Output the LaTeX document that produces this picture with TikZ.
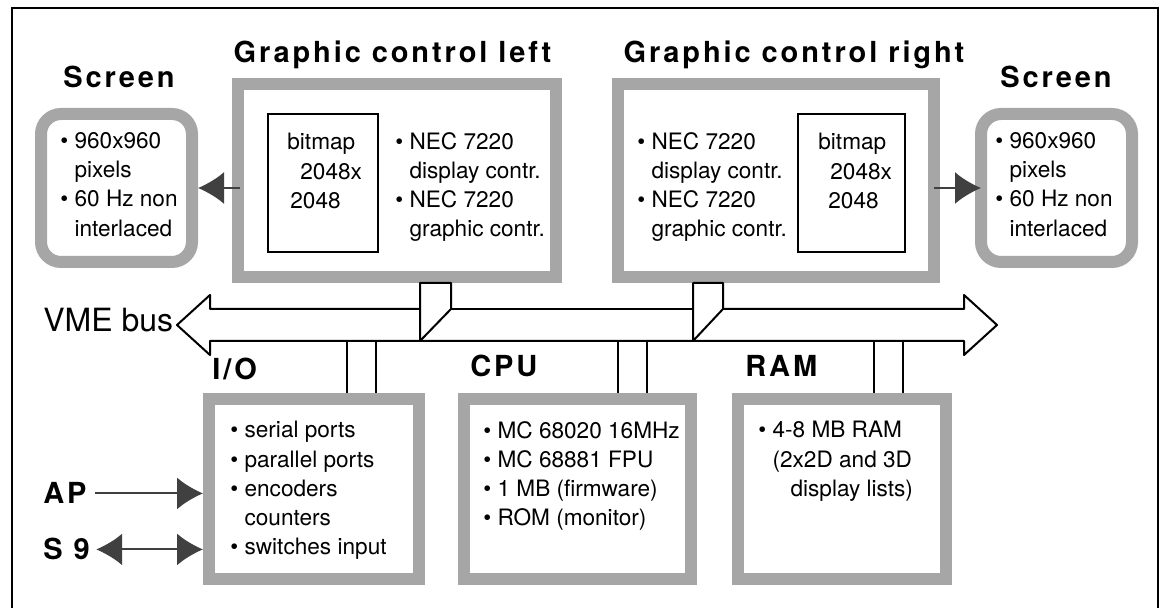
\documentclass[tikz,border=0pt]{standalone}
\usepackage{fontspec}
\setmainfont{TeX Gyre Heros}
\newfontfamily\spacedfont[LetterSpace=10]{TeX Gyre Heros}
\usetikzlibrary{arrows.meta}

\newcommand{\headfont}{\spacedfont\bfseries\fontsize{14.5}{17}\selectfont}
\newcommand{\bodyfont}{\fontsize{11.3}{14.6}\selectfont}
\newcommand{\bul}{\textbullet\ }
\newcommand{\ind}{\hphantom{\textbullet\ }}

\tikzset{
  shadebox/.style={draw=black!35, line width=6pt, fill=white, inner sep=0pt},
  mapbox/.style={draw, line width=1pt, inner sep=0pt},
  head/.style={font=\headfont, inner sep=0pt, anchor=base},
  body/.style={font=\bodyfont, align=left, anchor=north west, inner sep=0pt},
  busline/.style={line width=1pt, line join=round},
  arr/.style={-{Latex[length=13pt,width=16pt]}, line width=1pt, draw=black!75},
  dblarr/.style={{Latex[length=13pt,width=16pt]}-{Latex[length=13pt,width=16pt]}, line width=1pt, draw=black!75},
}

\begin{document}
\begin{tikzpicture}[x=0.5pt, y=-0.5pt]
\useasboundingbox (0,0) rectangle (1163,608);
% frame
\draw[line width=1pt] (12,608) -- (12,8) -- (1158,8) -- (1158,608);

% graphic controls
\node[shadebox, minimum width=159pt, minimum height=96.5pt] (gcL) at (397,180.5) {};
\node[shadebox, minimum width=158pt, minimum height=96.5pt] (gcR) at (776,180.5) {};
\node[head] (gcLtitle) at (392.5,63) {Graphic control left};
\node[head] (gcRtitle) at (794,63) {Graphic control right};
\node[mapbox, minimum width=55pt, minimum height=69pt] (bmL) at (323,183) {};
\node[mapbox, minimum width=53.5pt, minimum height=69pt] (bmR) at (851.5,183) {};
\node[body] (bmLtxt) at (287,133) {bitmap\\\hspace*{6.5pt}2048x\\\hspace*{1.5pt}2048};
\node[body] (bmRtxt) at (818,133) {bitmap\\\hspace*{6pt}2048x\\\hspace*{5pt}2048};
\node[body] (gcLtxt) at (395,132) {\bul NEC 7220\\\ind display contr.\\\bul NEC 7220\\\ind graphic contr.};
\node[body] (gcRtxt) at (637,132) {\bul NEC 7220\\\ind display contr.\\\bul NEC 7220\\\ind graphic contr.};

% screens
\node[shadebox, rounded corners=10pt, minimum width=75.5pt, minimum height=74pt] (scrL) at (116.5,188) {};
\node[shadebox, rounded corners=10pt, minimum width=75.5pt, minimum height=74pt] (scrR) at (1056.5,188) {};
\node[head] (scrLtitle) at (119,88) {Screen};
\node[head] (scrRtitle) at (1056,88) {Screen};
\node[body] (scrLtxt) at (60,132) {\bul 960x960\\\ind pixels\\\bul 60 Hz non\\\ind interlaced};
\node[body] (scrRtxt) at (995,132) {\bul 960x960\\\ind pixels\\\bul 60 Hz non\\\ind interlaced};
\draw[arr, shorten <=-4pt] (gcL.west |- scrL.east) -- (scrL.east);
\draw[arr, shorten <=-3pt, shorten >=-3pt] (gcR.east |- scrR.west) -- (scrR.west);

% VME bus
\draw[busline] (420,309) -- (210,309) -- (210,295) -- (177,325) -- (210,355) -- (210,341)
  -- (964,341) -- (964,355) -- (997,325) -- (964,295) -- (964,309) -- (723,309);
\draw[busline] (451,309) -- (693,309);
\node[font=\fontsize{16}{18}\selectfont, anchor=base west, inner sep=0pt] (vme) at (43,332) {VME bus};
\draw[busline, fill=white] (420,0 |- gcL.south) -- (420,341) -- (451,309) -- (451,0 |- gcL.south) -- cycle;
\draw[busline, fill=white] (693,0 |- gcR.south) -- (693,341) -- (723,309) -- (723,0 |- gcR.south) -- cycle;

% boards on the bus
\node[shadebox, minimum width=105pt, minimum height=90pt] (io) at (314,489) {};
\node[shadebox, minimum width=113.5pt, minimum height=90pt] (cpu) at (577.5,489) {};
\node[shadebox, minimum width=104pt, minimum height=90pt] (ram) at (842,489) {};
\node[head, anchor=base west] (iolabel) at (212,380) {I/O};
\node[head, anchor=base west] (cpulabel) at (470,377) {CPU};
\node[head, anchor=base west] (ramlabel) at (745,377) {RAM};
\node[body] (iotxt) at (230,421) {\bul serial ports\\\bul parallel ports\\\bul encoders\\\ind counters\\\bul switches input};
\node[body] (cputxt) at (483,421) {\bul MC 68020 16MHz\\\bul MC 68881 FPU\\\bul 1 MB (firmware)\\\bul ROM (monitor)};
\node[body] (ramtxt) at (758,421) {\bul 4-8 MB RAM\\\ind (2x2D and 3D\\\ind\hspace*{9pt}display lists)};
\foreach \x in {347,376} \draw[busline] (\x,341) -- (\x,0 |- io.north);
\foreach \x in {618,647} \draw[busline] (\x,341) -- (\x,0 |- cpu.north);
\foreach \x in {874,903} \draw[busline] (\x,341) -- (\x,0 |- ram.north);

% external lines
\node[head, anchor=base west] (ap) at (43,504) {AP};
\node[head, anchor=base west] (s9) at (43,560) {S 9};
\draw[arr, shorten <=4pt] (ap.east) -- (ap.east -| io.west);
\draw[dblarr, shorten <=3pt] (s9.east) -- (s9.east -| io.west);
\end{tikzpicture}
\end{document}
